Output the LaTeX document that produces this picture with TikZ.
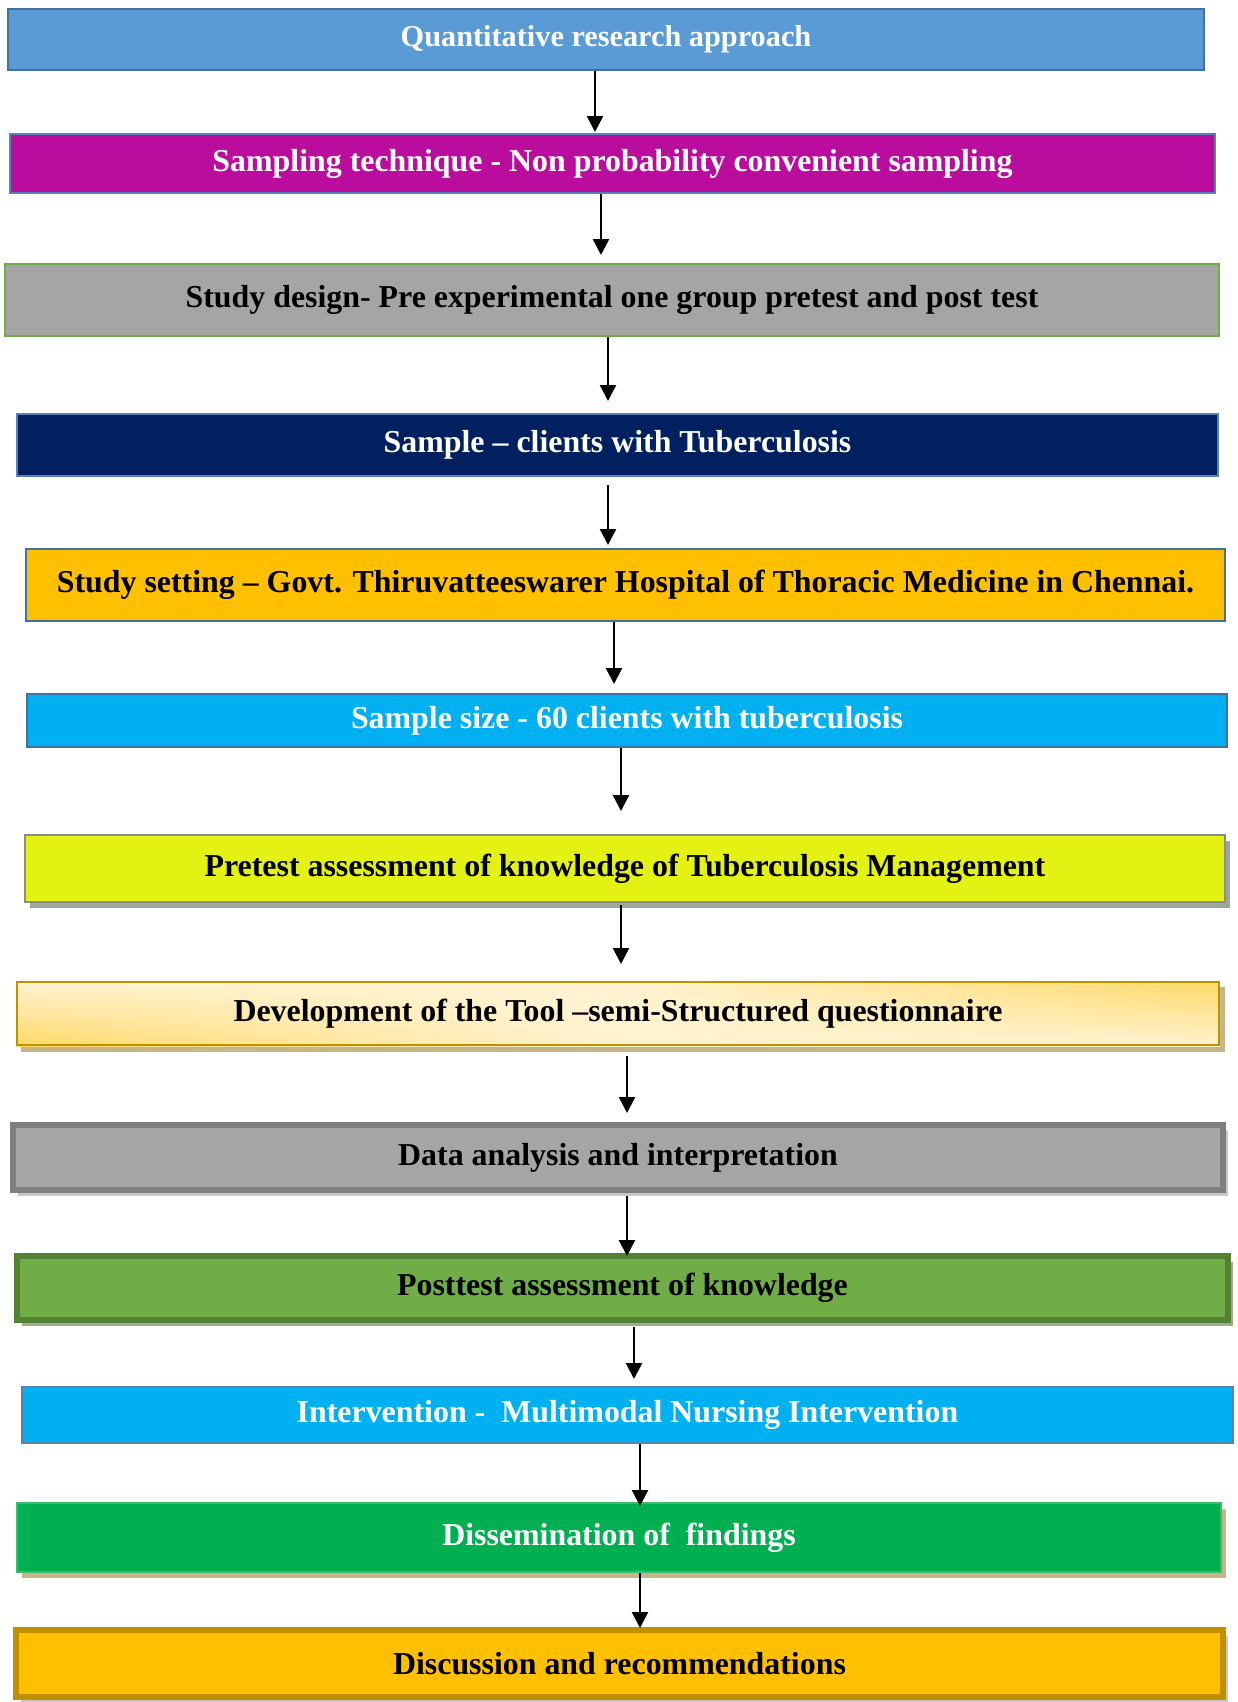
\documentclass[tikz,border=0pt]{standalone}
\usepackage{fontspec}
\setmainfont{Liberation Serif}
\usetikzlibrary{arrows.meta,shadows,backgrounds,calc}

\definecolor{approach}{HTML}{5B9BD5}
\definecolor{approachline}{HTML}{41719C}
\definecolor{sampling}{HTML}{BA0D9E}
\definecolor{design}{HTML}{A5A5A5}
\definecolor{designline}{HTML}{70AD47}
\definecolor{navy}{HTML}{002060}
\definecolor{paleline}{HTML}{5B80B4}
\definecolor{setting}{HTML}{FFC000}
\definecolor{sky}{HTML}{00B0F0}
\definecolor{lime}{HTML}{E3F212}
\definecolor{limeline}{HTML}{8C8C8C}
\definecolor{limeshadow}{HTML}{9AA898}
\definecolor{cream}{HTML}{FFF3D2}
\definecolor{gold}{HTML}{FFD966}
\definecolor{goldline}{HTML}{BF9000}
\definecolor{tan}{HTML}{C5B68A}
\definecolor{analysisline}{HTML}{7F7F7F}
\definecolor{lightgrey}{HTML}{C8C8C8}
\definecolor{leaf}{HTML}{70AD47}
\definecolor{leafline}{HTML}{548235}
\definecolor{leafshadow}{HTML}{A0AA90}
\definecolor{green}{HTML}{00B050}
\definecolor{greenline}{HTML}{3DBB6A}

\begin{document}
\begin{tikzpicture}[x=1bp,y=-1bp,line join=miter,
  stage/.style={draw=#1, line width=2bp, inner sep=0pt,
    font=\fontsize{32}{38}\selectfont\bfseries},
  heavy/.style={line width=6bp},
  wh/.style 2 args={minimum width=#1bp, minimum height=#2bp},
  dropsh/.style={drop shadow={shadow xshift=5bp, shadow yshift=-6bp, fill=#1, opacity=1}},
  flow/.style={-{Triangle[width=16bp,length=16bp]}, line width=2.4bp}]
\useasboundingbox (0,0) rectangle (1237,1702);

% the steps, top to bottom
\node[stage=approachline, fill=approach, text=white, wh={1196}{61},
  font=\fontsize{30.4}{36}\selectfont\bfseries] (b1) at (606,39.5) {Quantitative research approach};
\node[stage=paleline, fill=sampling, text=white, wh={1205}{59}] (b2) at (612.5,163.5) {Sampling technique - Non probability convenient sampling};
\node[stage=designline, fill=design, wh={1213}{72}] (b3) at (612,300) {\raisebox{5bp}{Study design- Pre experimental one group pretest and post test}};
\node[stage=paleline, fill=navy, text=white, wh={1201}{62}] (b4) at (617.5,445) {Sample -- clients with Tuberculosis};
\node[stage=approachline, fill=setting, wh={1199}{72}] (b5) at (625.5,585) {\raisebox{8bp}{Study setting -- Govt. Thiruvatteeswarer Hospital of Thoracic Medicine in Chennai.}};
\node[stage=approachline, fill=sky, text=white, wh={1200}{53}] (b6) at (627,720.5) {Sample size - 60 clients with tuberculosis};
\node[stage=limeline, fill=lime, dropsh=limeshadow, wh={1200}{67}] (b7) at (625,868.5) {\raisebox{4bp}{Pretest assessment of knowledge of Tuberculosis Management}};
\node[stage=goldline, wh={1202}{63}] (b8) at (618,1013.5) {Development of the Tool --semi-Structured questionnaire};
\node[stage=analysisline, heavy, fill=design, dropsh=lightgrey, wh={1210}{65}] (b9) at (618,1157.5) {Data analysis and interpretation};
\node[stage=leafline, heavy, fill=leaf, dropsh=leafshadow, wh={1211}{64}] (b10) at (622.5,1288) {Posttest assessment of knowledge};
\node[stage=paleline, fill=sky, text=white, wh={1211}{56}] (b11) at (627.5,1415) {Intervention -\ \ Multimodal Nursing Intervention};
\node[stage=greenline, fill=green, text=white, dropsh=tan, wh={1204}{69}] (b12) at (619,1537.5) {\raisebox{6bp}{Dissemination of\ \ findings}};
\node[stage=goldline, heavy, fill=setting, dropsh=lightgrey, wh={1207}{67}] (b13) at (619.5,1663.5) {Discussion and recommendations};

% gradient of the tool box: strips going from gold at the bottom left to gold at the top right
\begin{scope}[on background layer]
\fill[tan] ([xshift=5bp,yshift=-6bp]b8.north west) rectangle ([xshift=5bp,yshift=-6bp]b8.south east);
\foreach \i in {0,...,39}{
  \pgfmathsetmacro\ta{\i/40}
  \pgfmathsetmacro\tb{min(1,(\i+1.3)/40)}
  \pgfmathsetmacro\tp{max(0,2*(\i+0.5)/40-1)*100}
  \pgfmathsetmacro\bt{max(0,1-2*(\i+0.5)/40)*100}
  \fill[top color=gold!\tp!cream, bottom color=gold!\bt!cream]
    ($(b8.north west)!\ta!(b8.north east)$) rectangle ($(b8.south west)!\tb!(b8.south east)$);
}
\end{scope}

% arrows: from/to/x/gap at start/gap at end
\foreach \a/\b/\x/\s/\e in {1/2/595/0/1, 2/3/601/0/8, 3/4/608/0/12, 4/5/608/8/3,
  5/6/614/0/9, 6/7/621/0/23, 7/8/621/2/17, 8/9/627/10/9, 9/10/627/3/-3,
  10/11/634/4/7, 11/12/640/0/-4, 12/13/640/0/-1}
  \draw[flow, shorten <=\s bp, shorten >=\e bp] (\x,0 |- b\a.south) -- (\x,0 |- b\b.north);
\end{tikzpicture}
\end{document}
